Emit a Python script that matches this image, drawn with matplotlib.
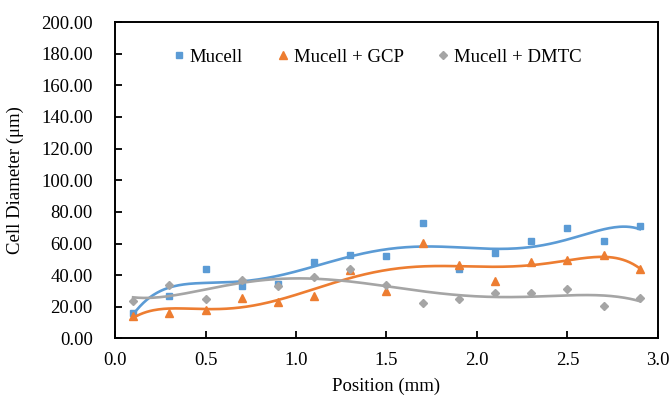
import matplotlib
matplotlib.use('Agg')
import matplotlib.pyplot as plt
import numpy as np

plt.rcParams['font.family'] = ['Liberation Serif', 'DejaVu Serif']

# positions (mm)
position = [0.1, 0.3, 0.5, 0.7, 0.9, 1.1, 1.3, 1.5, 1.7, 1.9, 2.1, 2.3, 2.5, 2.7, 2.9]

# cell diameter (um)
mucell = [16.1, 26.9, 44.2, 33.0, 34.3, 48.3, 53.0, 52.1, 73.0, 44.2, 53.8, 61.6, 69.6, 61.6, 71.0]
mucell_gcp = [14.1, 16.0, 18.3, 25.4, 22.9, 26.9, 43.4, 30.0, 60.6, 46.7, 36.6, 48.6, 49.6, 52.6, 43.7]
mucell_dmtc = [24.0, 33.6, 24.8, 36.8, 33.4, 38.9, 43.7, 34.1, 22.3, 24.8, 28.6, 28.6, 31.3, 20.8, 25.6]

names = ['Mucell', 'Mucell + GCP', 'Mucell + DMTC']
colors = ['#5B9BD5', '#ED7D31', '#A5A5A5']
markers = ['s', '^', 'D']
msizes = [4.2, 5.2, 3.6]

fig = plt.figure(figsize=(6.71, 3.98), dpi=100)
ax = fig.add_axes([0.1714, 0.1495, 0.8092, 0.7952])

x = np.array(position)
xx = np.linspace(0.1, 2.9, 300)
for y, name, c, m, ms in zip([mucell, mucell_gcp, mucell_dmtc], names, colors, markers, msizes):
    ax.plot(x, y, linestyle='none', marker=m, color=c, markersize=ms, label=name)
    # polynomial trendline (order 6)
    p = np.polyfit(x, y, 6)
    ax.plot(xx, np.polyval(p, xx), color=c, linewidth=1.9)

ax.set_xlim(0, 3.0)
ax.set_ylim(0, 200)
ax.set_xticks(np.arange(0, 3.01, 0.5))
ax.set_yticks(np.arange(0, 201, 20))
ax.xaxis.set_major_formatter(matplotlib.ticker.FormatStrFormatter('%.1f'))
ax.yaxis.set_major_formatter(matplotlib.ticker.FormatStrFormatter('%.2f'))
ax.tick_params(direction='in', length=5, width=1.3, labelsize=13.5, colors='black')
ax.tick_params(axis='y', pad=16)
ax.tick_params(axis='x', pad=10)
for s in ax.spines.values():
    s.set_linewidth(1.4)

ax.set_xlabel('Position (mm)', fontsize=13.5, labelpad=6)
ax.set_ylabel('Cell Diameter (\u03bcm)', fontsize=13.5, labelpad=12)

ax.legend(loc='upper center', ncol=3, frameon=False, fontsize=13.5,
          handletextpad=0.1, columnspacing=1.6, handlelength=1.0,
          bbox_to_anchor=(0.48, 0.97))

fig.savefig('out.png', dpi=100)
